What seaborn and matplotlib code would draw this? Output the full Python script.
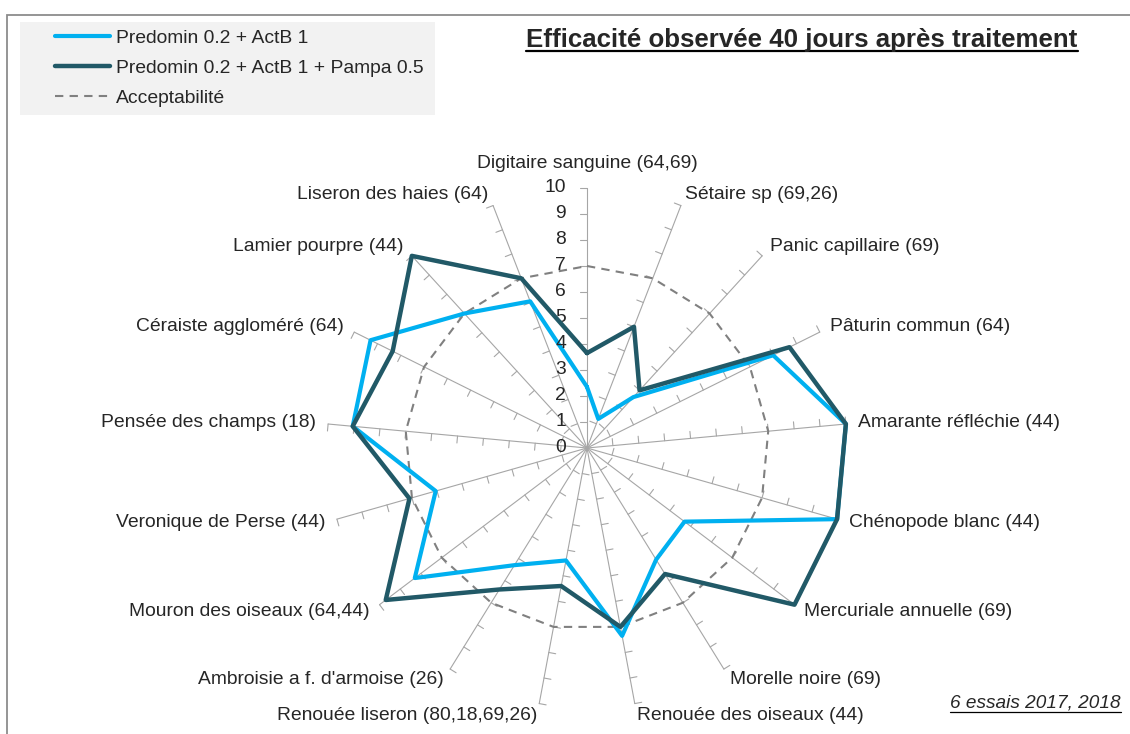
import numpy as np
import matplotlib
matplotlib.use('Agg')
import matplotlib.pyplot as plt
import seaborn as sns
from matplotlib.patches import Rectangle
from matplotlib.lines import Line2D

# Data
categories = [
    'Digitaire sanguine (64,69)',
    'Sétaire sp (69,26)',
    'Panic capillaire (69)',
    'Pâturin commun (64)',
    'Amarante réfléchie (44)',
    'Chénopode blanc (44)',
    'Mercuriale annuelle (69)',
    'Morelle noire (69)',
    'Renouée des oiseaux (44)',
    'Renouée liseron (80,18,69,26)',
    "Ambroisie a f. d'armoise (26)",
    'Mouron des oiseaux (64,44)',
    'Veronique de Perse (44)',
    'Pensée des champs (18)',
    'Céraiste aggloméré (64)',
    'Lamier pourpre (44)',
    'Liseron des haies (64)',
]
predomin_actb = [2.35, 1.2, 2.65, 8.0, 10, 10, 4.7, 5.05, 7.35, 4.4, 5.3, 8.3, 6.05, 9.05, 9.3, 7.0, 6.05]
predomin_actb_pampa = [3.65, 5.0, 3.0, 8.7, 10, 10, 10, 5.7, 7.0, 5.4, 6.4, 9.7, 7.1, 9.05, 8.35, 10, 7.0]
acceptabilite = [7] * len(categories)
radial_ticks = list(range(0, 11))

series_names = ['Predomin 0.2 + ActB 1', 'Predomin 0.2 + ActB 1 + Pampa 0.5', 'Acceptabilité']
title = 'Efficacité observée 40 jours après traitement'
note = '6 essais 2017, 2018'

sns.set_style('white')
plt.rcParams['font.family'] = ['Liberation Sans', 'DejaVu Sans']

W, H = 1130, 734
fig = plt.figure(figsize=(W / 100, H / 100), dpi=100)

# outer frame and legend background
fig.patches.append(Rectangle((7 / W, -0.05), 1.1, 1 - 15 / H + 0.05, fill=False,
                             edgecolor='#8c8c8c', lw=1.3, transform=fig.transFigure))
fig.patches.append(Rectangle((20 / W, 1 - 115 / H), 415 / W, 93 / H, facecolor='#f2f2f2',
                             edgecolor='none', transform=fig.transFigure, zorder=0))

cx, cy, R = 587, 448, 260
ax = fig.add_axes([(cx - R) / W, 1 - (cy + R) / H, 2 * R / W, 2 * R / H], projection='polar')
ax.set_theta_zero_location('N')
ax.set_theta_direction(-1)
ax.set_ylim(0, 10)
ax.axis('off')

n = len(categories)
theta = np.linspace(0, 2 * np.pi, n, endpoint=False)
theta_closed = np.append(theta, 2 * np.pi)

# spokes with small tick marks
grid_col = '#a6a6a6'
tick_len = 0.27
for t in theta:
    ax.plot([t, t], [0, 10], color=grid_col, lw=0.8, clip_on=False, zorder=1)
    for k in radial_ticks[1:]:
        ax.plot([t, t - np.arctan2(tick_len, k)], [k, np.hypot(k, tick_len)],
                color=grid_col, lw=0.8, clip_on=False, zorder=1)

def closed(vals):
    return list(vals) + [vals[0]]

sns.lineplot(x=theta_closed, y=closed(acceptabilite), sort=False, estimator=None, ax=ax,
             color='#808080', lw=1.5, linestyle=(0, (4, 3)), clip_on=False, zorder=2)
h_acc = ax.lines[-1]
sns.lineplot(x=theta_closed, y=closed(predomin_actb), sort=False, estimator=None, ax=ax,
             color='#00b0f0', lw=3, clip_on=False, zorder=3)
h_a = ax.lines[-1]
sns.lineplot(x=theta_closed, y=closed(predomin_actb_pampa), sort=False, estimator=None, ax=ax,
             color='#215967', lw=3.2, clip_on=False, zorder=4)
h_b = ax.lines[-1]
if ax.get_legend() is not None:
    ax.get_legend().remove()

# category labels
for i, (t, lab) in enumerate(zip(theta, categories)):
    s, c = np.sin(t), np.cos(t)
    off = 25 if i == 0 else 12
    ha = 'left' if s > 0.1 else ('right' if s < -0.1 else 'center')
    ax.annotate(lab, xy=(t, 10), xytext=(off * s, off * c), textcoords='offset pixels',
                ha=ha, va='center', fontsize=13.9, annotation_clip=False)

# radial value labels
for k in radial_ticks:
    ax.annotate(str(k), xy=(0, k), xytext=(-21, 0), textcoords='offset pixels',
                ha='right', va='center', fontsize=13.9, annotation_clip=False)

fig.legend([h_a, h_b, h_acc], series_names, loc='upper left',
           bbox_to_anchor=(55 / W, 1 - 29 / H), frameon=False, fontsize=13.9,
           handlelength=2.85, handletextpad=0.3, labelspacing=0.65,
           borderpad=0, borderaxespad=0)

t_title = fig.text(802 / W, 1 - 47 / H, title, ha='center', va='baseline',
                   fontsize=18.6, fontweight='bold')
t_note = fig.text(1121 / W, 1 - 708 / H, note, ha='right', va='baseline',
                  fontsize=13.7, style='italic')

# underline title and note
fig.canvas.draw()
for txt, y_px, lw in [(t_title, 51, 1.6), (t_note, 712, 0.9)]:
    bb = txt.get_window_extent()
    fig.lines.append(Line2D([bb.x0 / W, bb.x1 / W], [1 - y_px / H, 1 - y_px / H],
                            color='black', lw=lw, transform=fig.transFigure))

fig.savefig('out.png', dpi=100)
